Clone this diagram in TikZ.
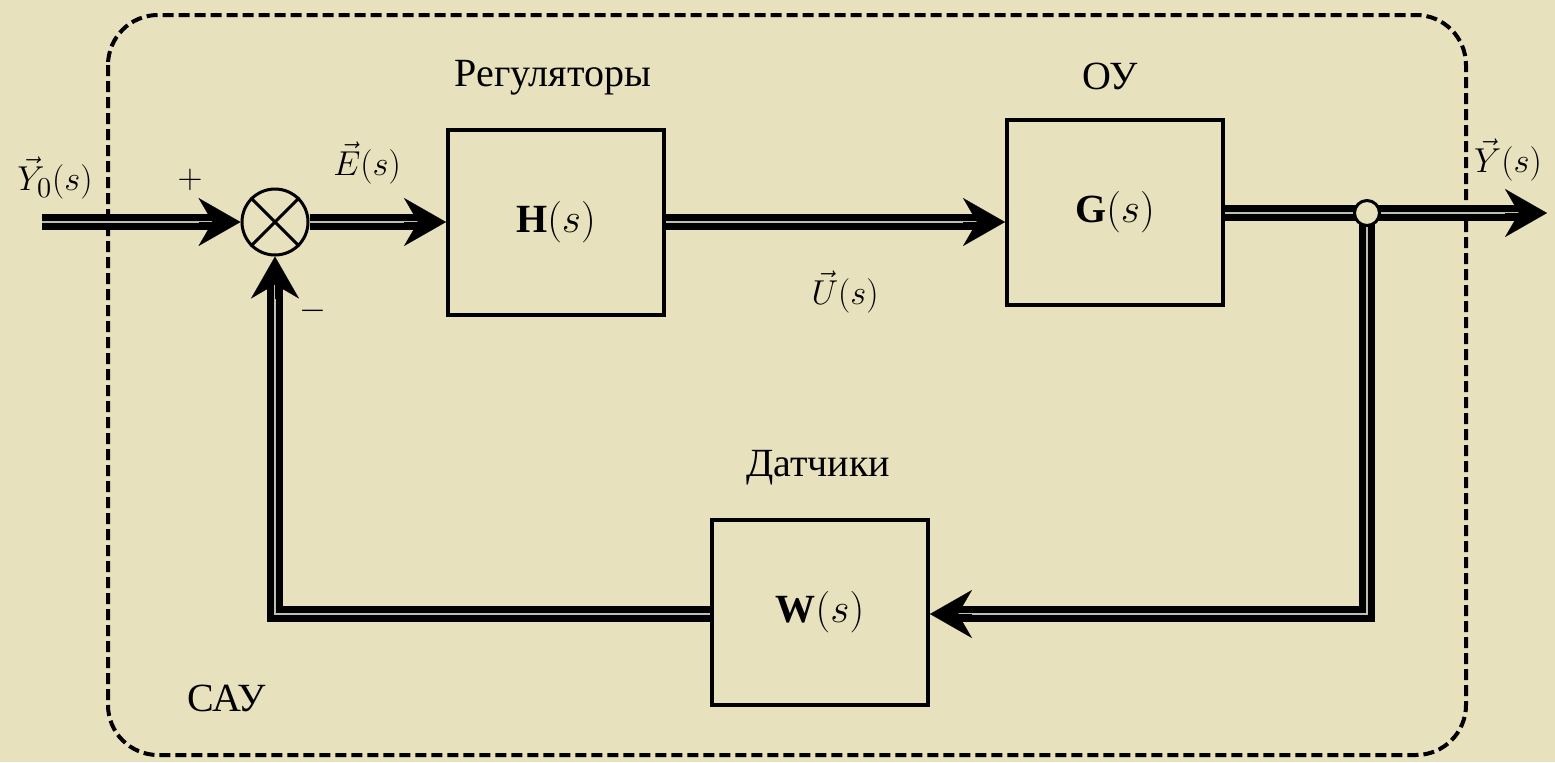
\documentclass[tikz,border=0pt]{standalone}
\usepackage{fontspec}
\setmainfont{Liberation Serif}
\usetikzlibrary{arrows.meta,calc}
\definecolor{paper}{RGB}{232,225,189}
\definecolor{gapgray}{RGB}{190,190,180}
\begin{document}
\begin{tikzpicture}[x=0.5pt,y=-0.5pt,
  txt/.style={font=\fontsize{20}{24}\selectfont, inner sep=0pt},
  mth/.style={font=\fontsize{19}{23}\selectfont, inner sep=0pt},
  blockbox/.style={draw, line width=2pt, minimum width=108pt, minimum height=92.5pt,
                   inner sep=0pt, font=\fontsize{20}{24}\selectfont},
  dbl/.style={line width=3.4pt, double=gapgray, double distance=1pt, line join=miter,
              shorten >=11pt},
  tipline/.style={line width=0.1pt, -{Stealth[length=21pt,width=24pt,inset=7pt]}},
  frame/.style={line width=2pt, dash pattern=on 5.5pt off 2.5pt, rounded corners=25pt}]
\fill[paper] (0,0) rectangle (1555,762);
\useasboundingbox (0,0) rectangle (1555,762);

% frame
\draw[frame] (108,15) rectangle (1466,755);

% blocks
\node[blockbox] (H) at (556,222) {$\mathbf{H}(s)$};
\node[blockbox] (G) at (1115,212) {$\mathbf{G}(s)$};
\node[blockbox] (W) at (820,612) {$\mathbf{W}(s)$};

% summing junction
\node[circle, draw, line width=1.5pt, minimum size=33pt, inner sep=0pt] (S) at (275,222) {};
\draw[line width=1.5pt] (S.north east) -- (S.south west) (S.north west) -- (S.south east);

% coordinates
\coordinate (in) at (42,222);
\coordinate (br) at (1367,213);
\coordinate (out) at (1547,213);
\coordinate (fbR) at (1367,614);
\coordinate (fbL) at (275,614);
\coordinate (Win) at (W.east |- fbR);
\coordinate (Wout) at (W.west |- fbR);
\coordinate (Gin) at (G.west |- H.east);
\coordinate (Gout) at (G.east |- br);

% connectors
\draw[dbl] (in) -- (S.west);
\draw[tipline] ($(S.west)+(-42,0)$) -- (S.west);

\draw[dbl] (S.east) -- (H.west);
\draw[tipline] ($(H.west)+(-42,0)$) -- (H.west);

\draw[dbl] (H.east) -- (Gin);
\draw[tipline] ($(Gin)+(-42,0)$) -- (Gin);

\draw[dbl] (Gout) -- (out);
\draw[tipline] ($(out)+(-42,0)$) -- (out);

\draw[dbl] (br) -- (fbR) -- (Win);
\draw[tipline] ($(Win)+(42,0)$) -- (Win);

\draw[dbl] (Wout) -- (fbL) -- (S.south);
\draw[tipline] ($(S.south)+(0,42)$) -- (S.south);

% branch point
\node[circle, draw, fill=paper, line width=1.5pt, minimum size=12.5pt, inner sep=0pt] (B) at (br) {};

% labels
\node[txt] (lreg) at (553,78) {Регуляторы};
\node[txt] (lou) at (1110,76) {ОУ};
\node[txt] (ldat) at (818,468) {Датчики};
\node[txt] (lsau) at (227,698) {САУ};
\node[mth] (ly0) at (55,178) {$\vec{Y}_0(s)$};
\node[mth] (lplus) at (190,180) {$+$};
\node[mth] (lminus) at (313,311) {$-$};
\node[mth] (le) at (367,163) {$\vec{E}(s)$};
\node[mth] (lu) at (845,292) {$\vec{U}(s)$};
\node[mth] (ly) at (1508,160) {$\vec{Y}(s)$};
\end{tikzpicture}
\end{document}
